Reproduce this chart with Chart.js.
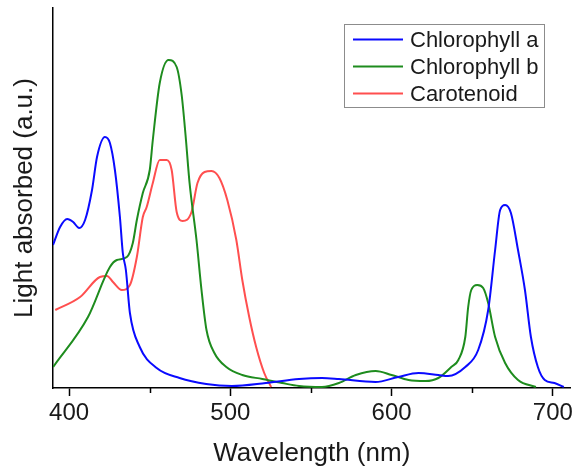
<!DOCTYPE html>
<html>
<head>
<meta charset="utf-8">
<script src="https://cdn.jsdelivr.net/npm/chart.js@4/dist/chart.umd.min.js"></script>
<style>
  html, body { margin: 0; padding: 0; background: #fff; }
  #wrap { width: 576px; height: 469px; }
</style>
</head>
<body>
<div id="wrap"><canvas id="chart" width="576" height="469"></canvas></div>
<script>
// values (y in arbitrary units)
const chlAWl  = [390, 394.4, 398.8, 402.5, 406.2, 409.9, 414.2, 417.3, 422.2, 425.3, 428.4, 431.5, 433.3, 435.2, 437.7, 443.8, 454.3, 468.5, 485, 501, 522, 542.6, 556.8, 567.3, 590, 604, 616.7, 629, 635, 645.7, 653.7, 659.9, 664.2, 667.3, 670.4, 674, 678.4, 682.7, 686.4, 690.7, 695, 701, 706.8];
const chlAVal = [143, 161, 169, 166, 160, 168, 198, 231, 251, 245, 218, 171, 135, 118, 75, 41, 20, 10, 4, 2, 5, 9, 10, 9, 6, 11, 15, 13, 12, 21, 38, 78, 138, 178, 183, 175, 138, 98, 51, 21, 8, 5, 1];

const chlBWl  = [390.1, 411.7, 425.3, 429.6, 435.8, 439.5, 442, 445.7, 450, 451.9, 456.2, 461.7, 466.7, 469.8, 472.2, 474.7, 479, 482.1, 485.2, 490.1, 497.5, 507.4, 519.8, 532.1, 542.6, 556.8, 567.3, 577.8, 590.1, 600, 610.5, 621, 629, 637, 641.4, 645.7, 647.5, 649.4, 653.1, 656.8, 659.9, 664.2, 670.4, 678.4, 689.5];
const chlBVal = [21, 71, 121, 128, 131, 145, 168, 195, 218, 248, 305, 328, 321, 293, 253, 205, 148, 98, 58, 35, 21, 13, 9, 5, 2, 1, 5, 13, 17, 13, 8, 7, 10, 21, 28, 51, 81, 98, 103, 100, 85, 51, 25, 8, 1];

const carWl  = [391.4, 406.8, 419.1, 423.5, 427.2, 432.7, 437.7, 442, 445.7, 448.1, 451.9, 456.2, 460.5, 463.6, 466.7, 470.4, 475.9, 479.6, 484, 488.3, 493.2, 498.1, 503.7, 507.4, 511.7, 516, 521, 525.3];
const carVal = [78, 91, 111, 112, 106, 98, 103, 131, 171, 181, 205, 228, 228, 218, 176, 167, 176, 205, 216, 217, 210, 188, 148, 108, 71, 41, 15, 1];

const xTicks = [400, 500, 600, 700];
const xMinor = [450, 550, 650];

const FONT = "'Liberation Sans', Arial, sans-serif";

function pts(xs, ys) {
    return xs.map((x, i) => ({ x: x, y: ys[i] }));
}

const minorTicks = {
    id: 'minorTicks',
    afterDraw(chart) {
        const ctx = chart.ctx;
        const sx = chart.scales.x;
        const bottom = chart.chartArea.bottom;
        ctx.save();
        ctx.strokeStyle = '#000';
        ctx.lineWidth = 1.5;
        xMinor.forEach(v => {
            const px = Math.round(sx.getPixelForValue(v)) + 0.5;
            ctx.beginPath();
            ctx.moveTo(px, bottom);
            ctx.lineTo(px, bottom + 5);
            ctx.stroke();
        });
        ctx.restore();
    }
};

const boxLegend = {
    id: 'boxLegend',
    afterDraw(chart) {
        const ctx = chart.ctx;
        const x0 = 344.5, y0 = 24.5, w = 200, h = 83;
        ctx.save();
        ctx.fillStyle = '#fff';
        ctx.fillRect(x0, y0, w, h);
        ctx.strokeStyle = '#8c8c8c';
        ctx.lineWidth = 1;
        ctx.strokeRect(x0, y0, w, h);
        ctx.font = '22px ' + FONT;
        ctx.textBaseline = 'middle';
        ctx.fillStyle = '#1a1a1a';
        chart.data.datasets.forEach((ds, i) => {
            const y = 39.5 + i * 27;
            ctx.strokeStyle = ds.borderColor;
            ctx.lineWidth = 2;
            ctx.beginPath();
            ctx.moveTo(353, y);
            ctx.lineTo(403, y);
            ctx.stroke();
            ctx.fillText(ds.label, 410, y + 1);
        });
        ctx.restore();
    }
};

new Chart(document.getElementById('chart'), {
    type: 'line',
    data: {
        datasets: [
            { label: 'Chlorophyll a', data: pts(chlAWl, chlAVal), borderColor: '#0a0aff' },
            { label: 'Chlorophyll b', data: pts(chlBWl, chlBVal), borderColor: '#1e8c1e' },
            { label: 'Carotenoid', data: pts(carWl, carVal), borderColor: '#ff4f4f' }
        ]
    },
    options: {
        responsive: false,
        animation: false,
        parsing: true,
        layout: { padding: { top: 8, right: 4, left: 0, bottom: 0 } },
        elements: {
            point: { radius: 0 },
            line: { borderWidth: 2, cubicInterpolationMode: 'monotone' }
        },
        plugins: {
            legend: { display: false },
            tooltip: { enabled: false }
        },
        scales: {
            x: {
                type: 'linear',
                min: 390,
                max: 711,
                afterBuildTicks: s => { s.ticks = xTicks.map(v => ({ value: v })); },
                afterFit: s => { s.height = 81; },
                grid: { display: true, drawOnChartArea: false, tickLength: 8, tickColor: '#000', tickWidth: 1.5 },
                border: { display: true, color: '#000', width: 1.5 },
                ticks: { color: '#1a1a1a', padding: 3, maxRotation: 0, font: { family: FONT, size: 24 } },
                title: {
                    display: true,
                    text: 'Wavelength (nm)',
                    color: '#1a1a1a',
                    padding: { top: 0, bottom: 0 },
                    font: { family: FONT, size: 26 }
                }
            },
            y: {
                min: 0,
                max: 380,
                afterFit: s => { s.width = 53; },
                grid: { display: false },
                border: { display: true, color: '#000', width: 1.5 },
                ticks: { display: false },
                title: {
                    display: true,
                    text: 'Light absorbed (a.u.)',
                    color: '#1a1a1a',
                    padding: { top: 9, bottom: 0 },
                    font: { family: FONT, size: 26 }
                }
            }
        }
    },
    plugins: [minorTicks, boxLegend]
});
</script>
</body>
</html>
